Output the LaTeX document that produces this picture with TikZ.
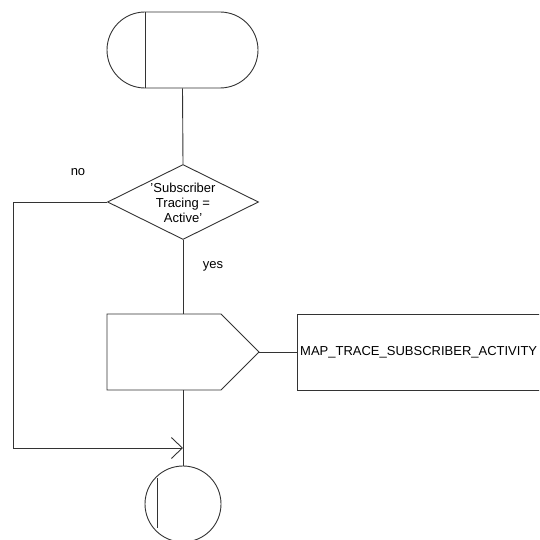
\documentclass[tikz,border=0pt]{standalone}
\usepackage{fontspec}
\setmainfont{Liberation Sans}
\usetikzlibrary{shapes.misc,shapes.geometric,arrows.meta,calc}
\begin{document}
\begin{tikzpicture}[x=1pt,y=-1pt,
  line/.style={draw=black!80,line width=0.9pt},
  lbl/.style={font=\fontsize{13}{14.8}\selectfont,inner sep=0pt},
  arr/.style={-{Straight Barb[length=11pt,width=21pt,line width=0.9pt]}}]
\useasboundingbox (0,0) rectangle (539,540);
\clip (0,0) rectangle (539,540);
% start terminator
\node[rounded rectangle,line,minimum width=151pt,minimum height=76pt,inner sep=0pt] (start) at (182.5,50) {};
\draw[line] (145,12) -- (145,88);
% decision
\node[diamond,line,minimum width=151pt,minimum height=75pt,inner sep=0pt,aspect=2] (dec) at (183,202) {};
\node[lbl,align=center] (dectext) at (183,203) {'Subscriber\\Tracing =\\Active'};
\node[lbl] (no) at (78,172) {no};
\node[lbl] (yes) at (213,266) {yes};
% output signal
\coordinate (o1) at (107,314);
\coordinate (o2) at (221,314);
\coordinate (otip) at (259,352);
\coordinate (o3) at (221,390);
\coordinate (o4) at (107,390);
\coordinate (otop) at (183,314);
\coordinate (obot) at (183,390);
\draw[line] (o1) -- (o2) -- (otip) -- (o3) -- (o4) -- cycle;
% message box
\node[line,minimum width=260pt,minimum height=76pt,anchor=west,inner sep=0pt] (msg) at (297,352) {};
\node[lbl,anchor=west] (msgtext) at (300,352) {MAP\_TRACE\_SUBSCRIBER\_ACTIVITY};
% end connector
\node[circle,line,minimum size=76pt,inner sep=0pt] (endc) at (183,504) {};
\draw[line] (157,478) -- (157,528);
\coordinate (join) at (183,448);
\coordinate (lc1) at (13,202);
\coordinate (lc2) at (13,448);
% connectors
\draw[line] (start.south) -- (dec.north);
\draw[line] (dec.south) -- (otop);
\draw[line] (otip) -- (msg.west);
\draw[line] (obot) -- (endc.north);
\draw[line,arr] (dec.west) -- (lc1) -- (lc2) -- (join);
\end{tikzpicture}
\end{document}
